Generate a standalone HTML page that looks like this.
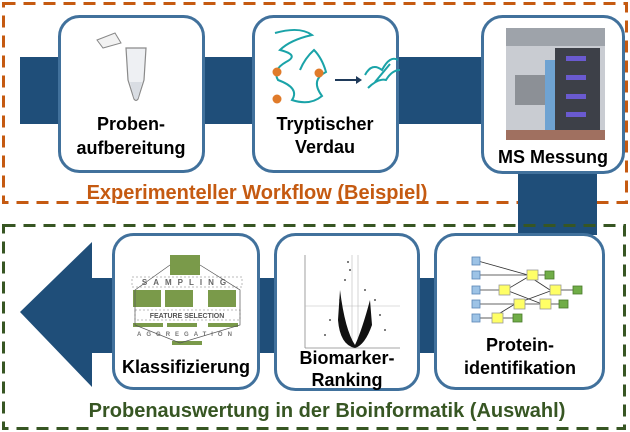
<!DOCTYPE html>
<html><head><meta charset="utf-8"><style>
html,body{margin:0;padding:0;background:#fff;}
svg{display:block;}
text{font-family:"Liberation Sans",Arial,sans-serif;font-weight:bold;}
</style></head><body>
<svg width="630" height="432" viewBox="0 0 630 432" xmlns="http://www.w3.org/2000/svg">
<rect x="3.5" y="3.5" width="623" height="199" fill="none" stroke="#c55a11" stroke-width="3" stroke-dasharray="12,8"/>
<rect x="20" y="57" width="480" height="67" fill="#1f4e79"/>
<rect x="518" y="120" width="79" height="115" fill="#1f4e79"/>
<rect x="3.5" y="225.5" width="621" height="203" fill="none" stroke="#375623" stroke-width="3" stroke-dasharray="12,8"/>
<rect x="90" y="278" width="360" height="75" fill="#1f4e79"/>
<polygon points="20,312 92,242 92,387" fill="#1f4e79"/>

<rect x="59.5" y="16.5" width="144" height="155" rx="20" fill="#fff" stroke="#41719c" stroke-width="3"/>
<rect x="253.5" y="16.5" width="144" height="155" rx="20" fill="#fff" stroke="#41719c" stroke-width="3"/>
<rect x="482.5" y="16.5" width="141" height="156" rx="20" fill="#fff" stroke="#41719c" stroke-width="3"/>

<g>
<polygon points="97,40 115,33 121,43 103,48" fill="#f2f2f2" stroke="#888" stroke-width="1"/>
<path d="M126,48 L146,48 L144,80 L138,99 Q136,102 134,99 L128,80 Z" fill="#eef0f3" stroke="#8a8a8a" stroke-width="1.2"/>
<path d="M130,82 L142,82 L138,98 Q136,101 134,98 Z" fill="#d9dde3"/>
</g>
<g fill="none" stroke="#1aa3a8" stroke-width="2">
<path d="M275,33 Q300,26 312,35 Q290,40 280,50 Q300,55 286,62 Q272,70 278,80 Q300,88 292,100 Q310,106 322,96 Q310,80 326,72 Q322,58 314,50 Q305,58 300,70"/>
<path d="M365,75 Q372,62 382,70 Q390,55 398,60"/>
<path d="M368,88 Q378,78 386,80 Q392,70 400,70"/>
<path d="M375,82 L390,64"/>
</g>
<circle cx="277" cy="72" r="4.5" fill="#e07b2a"/>
<circle cx="319" cy="73" r="4.5" fill="#e07b2a"/>
<circle cx="277" cy="99" r="4.5" fill="#e07b2a"/>
<line x1="335" y1="80" x2="356" y2="80" stroke="#1f3a5a" stroke-width="2"/>
<polygon points="356,76 362,80 356,84" fill="#1f3a5a"/>
<rect x="506" y="28" width="99" height="112" fill="#c9ccd2"/>
<rect x="506" y="28" width="99" height="18" fill="#9ea3aa"/>
<rect x="545" y="60" width="12" height="75" fill="#6fa3d2"/>
<rect x="555" y="48" width="45" height="92" fill="#3d4048"/>
<rect x="566" y="56" width="20" height="5" fill="#6a5ad0"/>
<rect x="566" y="75" width="20" height="5" fill="#6a5ad0"/>
<rect x="566" y="94" width="20" height="5" fill="#6a5ad0"/>
<rect x="566" y="112" width="20" height="5" fill="#6a5ad0"/>
<rect x="515" y="75" width="30" height="30" fill="#8c9096"/>
<rect x="506" y="130" width="99" height="10" fill="#a07060"/>

<text x="131" y="130" font-size="18" text-anchor="middle">Proben-</text>
<text x="131" y="154" font-size="18" text-anchor="middle">aufbereitung</text>
<text x="325" y="130" font-size="18" text-anchor="middle">Tryptischer</text>
<text x="325" y="153" font-size="18" text-anchor="middle">Verdau</text>
<text x="553" y="163" font-size="18" text-anchor="middle">MS Messung</text>
<text x="257" y="199" font-size="20" text-anchor="middle" fill="#c55a11">Experimenteller Workflow (Beispiel)</text>

<rect x="113.5" y="234.5" width="145" height="154" rx="20" fill="#fff" stroke="#41719c" stroke-width="3"/>
<rect x="275.5" y="234.5" width="143" height="155" rx="20" fill="#fff" stroke="#41719c" stroke-width="3"/>
<rect x="435.5" y="234.5" width="168" height="154" rx="20" fill="#fff" stroke="#41719c" stroke-width="3"/>

<g>
<rect x="170" y="255" width="30" height="20" fill="#7a9a4a"/>
<rect x="132" y="277" width="110" height="10" fill="none" stroke="#bbb" stroke-dasharray="2,2"/>
<text x="187" y="285" font-size="8" text-anchor="middle" fill="#666" letter-spacing="6">SAMPLING</text>
<rect x="133" y="290" width="28" height="17" fill="#7a9a4a"/>
<rect x="165" y="290" width="28" height="17" fill="#7a9a4a"/>
<rect x="208" y="290" width="28" height="17" fill="#7a9a4a"/>
<rect x="135" y="310" width="105" height="10" fill="none" stroke="#bbb" stroke-dasharray="2,2"/>
<text x="187" y="318" font-size="7" text-anchor="middle" fill="#555">FEATURE   SELECTION</text>
<rect x="133" y="323" width="30" height="4" fill="#7a9a4a"/>
<rect x="167" y="323" width="30" height="4" fill="#7a9a4a"/>
<rect x="208" y="323" width="30" height="4" fill="#7a9a4a"/>
<text x="187" y="336" font-size="6" text-anchor="middle" fill="#777" letter-spacing="5">AGGREGATION</text>
<rect x="172" y="341" width="30" height="4" fill="#7a9a4a"/>
<polyline points="170,265 135,290 135,325 180,343 240,325 240,290 200,265" fill="none" stroke="#555" stroke-width="0.7"/>
</g>
<g>
<line x1="305" y1="255" x2="305" y2="348" stroke="#888" stroke-width="0.8"/>
<line x1="305" y1="348" x2="400" y2="348" stroke="#888" stroke-width="0.8"/>
<line x1="305" y1="306" x2="400" y2="306" stroke="#bbb" stroke-width="0.6"/>
<line x1="352" y1="255" x2="352" y2="348" stroke="#bbb" stroke-width="0.6"/>
<line x1="358" y1="255" x2="358" y2="348" stroke="#bbb" stroke-width="0.6"/>
<path d="M340,290 Q345,330 355,345 Q362,330 370,300 L372,325 Q365,345 355,348 Q340,345 338,320 Z" fill="#111"/>
<g fill="#222"><circle cx="345" cy="280" r="0.9"/><circle cx="350" cy="270" r="0.9"/><circle cx="365" cy="290" r="0.9"/><circle cx="380" cy="315" r="0.9"/><circle cx="330" cy="320" r="0.9"/><circle cx="375" cy="300" r="0.9"/><circle cx="340" cy="300" r="0.9"/><circle cx="385" cy="330" r="0.9"/><circle cx="325" cy="335" r="0.9"/><circle cx="348" cy="262" r="0.9"/></g>
</g>
<g stroke="#333" stroke-width="0.8" fill="none">
<line x1="478" y1="261" x2="528" y2="275"/><line x1="478" y1="275" x2="528" y2="275"/>
<line x1="478" y1="290" x2="500" y2="290"/><line x1="506" y1="290" x2="528" y2="277"/><line x1="506" y1="290" x2="542" y2="304"/>
<line x1="478" y1="304" x2="548" y2="304"/><line x1="478" y1="318" x2="492" y2="318"/><line x1="492" y1="318" x2="515" y2="304"/>
<line x1="515" y1="304" x2="553" y2="290"/><line x1="530" y1="277" x2="550" y2="290"/>
<line x1="530" y1="275" x2="545" y2="275"/><line x1="560" y1="290" x2="575" y2="290"/><line x1="548" y1="304" x2="562" y2="304"/><line x1="498" y1="318" x2="513" y2="318"/>
</g>
<g fill="#9dc3e6" stroke="#5a86b6" stroke-width="0.8">
<rect x="472" y="257" width="8" height="8"/><rect x="472" y="271" width="8" height="8"/><rect x="472" y="286" width="8" height="8"/><rect x="472" y="300" width="8" height="8"/><rect x="472" y="314" width="8" height="8"/>
</g>
<g fill="#ffff66" stroke="#999" stroke-width="0.8">
<rect x="527" y="270" width="11" height="10"/><rect x="499" y="285" width="11" height="10"/><rect x="550" y="285" width="11" height="10"/><rect x="514" y="299" width="11" height="10"/><rect x="540" y="299" width="11" height="10"/><rect x="492" y="313" width="11" height="10"/>
</g>
<g fill="#70ad47" stroke="#4a7a2a" stroke-width="0.8">
<rect x="545" y="271" width="9" height="8"/><rect x="573" y="286" width="9" height="8"/><rect x="559" y="300" width="9" height="8"/><rect x="513" y="314" width="9" height="8"/>
</g>

<text x="186" y="373" font-size="18" text-anchor="middle">Klassifizierung</text>
<text x="347" y="364" font-size="18" text-anchor="middle">Biomarker-</text>
<text x="347" y="386" font-size="18" text-anchor="middle">Ranking</text>
<text x="520" y="351" font-size="18" text-anchor="middle">Protein-</text>
<text x="520" y="374" font-size="18" text-anchor="middle">identifikation</text>
<text x="327" y="417" font-size="20" text-anchor="middle" fill="#375623">Probenauswertung in der Bioinformatik (Auswahl)</text>
</svg>
</body></html>
